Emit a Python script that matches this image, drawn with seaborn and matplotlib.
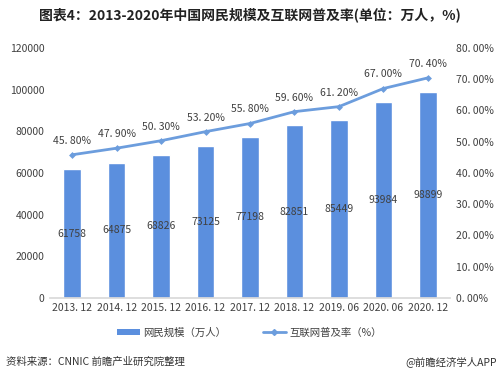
import matplotlib
matplotlib.use("Agg")
import matplotlib.pyplot as plt
import seaborn as sns
import pandas as pd
from matplotlib.lines import Line2D
from matplotlib.patches import Patch

periods = ["2013.12", "2014.12", "2015.12", "2016.12", "2017.12",
           "2018.12", "2019.06", "2020.06", "2020.12"]
netizens = [61758, 64875, 68826, 73125, 77198, 82851, 85449, 93984, 98899]
penetration = [45.8, 47.9, 50.3, 53.2, 55.8, 59.6, 61.2, 67.0, 70.4]

bar_color = "#5B8FDE"
line_color = "#6C9DDD"
text_color = "#404040"

sns.set_theme(style="white")
plt.rcParams["font.family"] = ["Noto Sans CJK SC", "DejaVu Sans"]

df = pd.DataFrame({"period": periods, "netizens": netizens, "rate": penetration})

fig = plt.figure(figsize=(4.99, 3.80), dpi=100)
ax = fig.add_axes([0.100, 0.216, 0.802, 0.658])

sns.barplot(data=df, x="period", y="netizens", color=bar_color,
            width=0.4, saturation=1, ax=ax)
ax.set_ylim(0, 120000)
ax.set_yticks(range(0, 120001, 20000))
ax.set_xlim(-0.5, len(periods) - 0.5)
ax.set_xlabel("")
ax.set_ylabel("")
ax.set_xticks(range(len(periods)))
ax.set_xticklabels([p.replace(".", ". ") for p in periods])
ax.tick_params(axis="both", labelsize=7.5, colors=text_color, length=0, pad=4)
for s in ["top", "right", "left"]:
    ax.spines[s].set_visible(False)
ax.spines["bottom"].set_color("#D9D9D9")

for i, v in enumerate(netizens):
    ax.text(i, v / 2, str(v), ha="center", va="center",
            fontsize=7.5, color=text_color)

ax2 = ax.twinx()
sns.lineplot(data=df, x="period", y="rate", sort=False, color=line_color,
             linewidth=2, marker="D", markersize=3.5, markeredgewidth=0,
             ax=ax2)
ax2.set_ylim(0, 80)
ax2.set_yticks(range(0, 81, 10))
ax2.set_yticklabels([f"{t:.2f}%".replace(".", ". ") for t in range(0, 81, 10)])
ax2.set_ylabel("")
ax2.tick_params(axis="y", labelsize=7.5, colors=text_color, length=0, pad=4)
for s in ["top", "right", "left", "bottom"]:
    ax2.spines[s].set_visible(False)

for i, v in enumerate(penetration):
    ax2.text(i, v + 4.5, f"{v:.2f}%".replace(".", ". "), ha="center",
             va="center", fontsize=7.5, color=text_color)

fig.text(0.5, 0.96, "图表4：2013-2020年中国网民规模及互联网普及率(单位：万人，%)",
         ha="center", va="center", fontsize=10, fontweight="bold", color="#222222")

handles = [Patch(facecolor=bar_color, edgecolor="none"),
           Line2D([0], [0], color=line_color, lw=2, marker="D", markersize=3)]
fig.legend(handles, ["网民规模（万人）", "互联网普及率（%）"], loc="center",
           bbox_to_anchor=(0.5, 0.125), ncol=2, frameon=False, fontsize=7.5,
           labelcolor=text_color, handlelength=2.2, handleheight=0.6,
           columnspacing=3.5, handletextpad=0.3)

fig.text(0.012, 0.047, "资料来源：CNNIC 前瞻产业研究院整理", ha="left", va="center",
         fontsize=7.5, color="#333333")
fig.text(0.995, 0.047, "@前瞻经济学人APP", ha="right", va="center",
         fontsize=7.5, color="#333333")

fig.savefig("out.png", dpi=100, facecolor="white")
